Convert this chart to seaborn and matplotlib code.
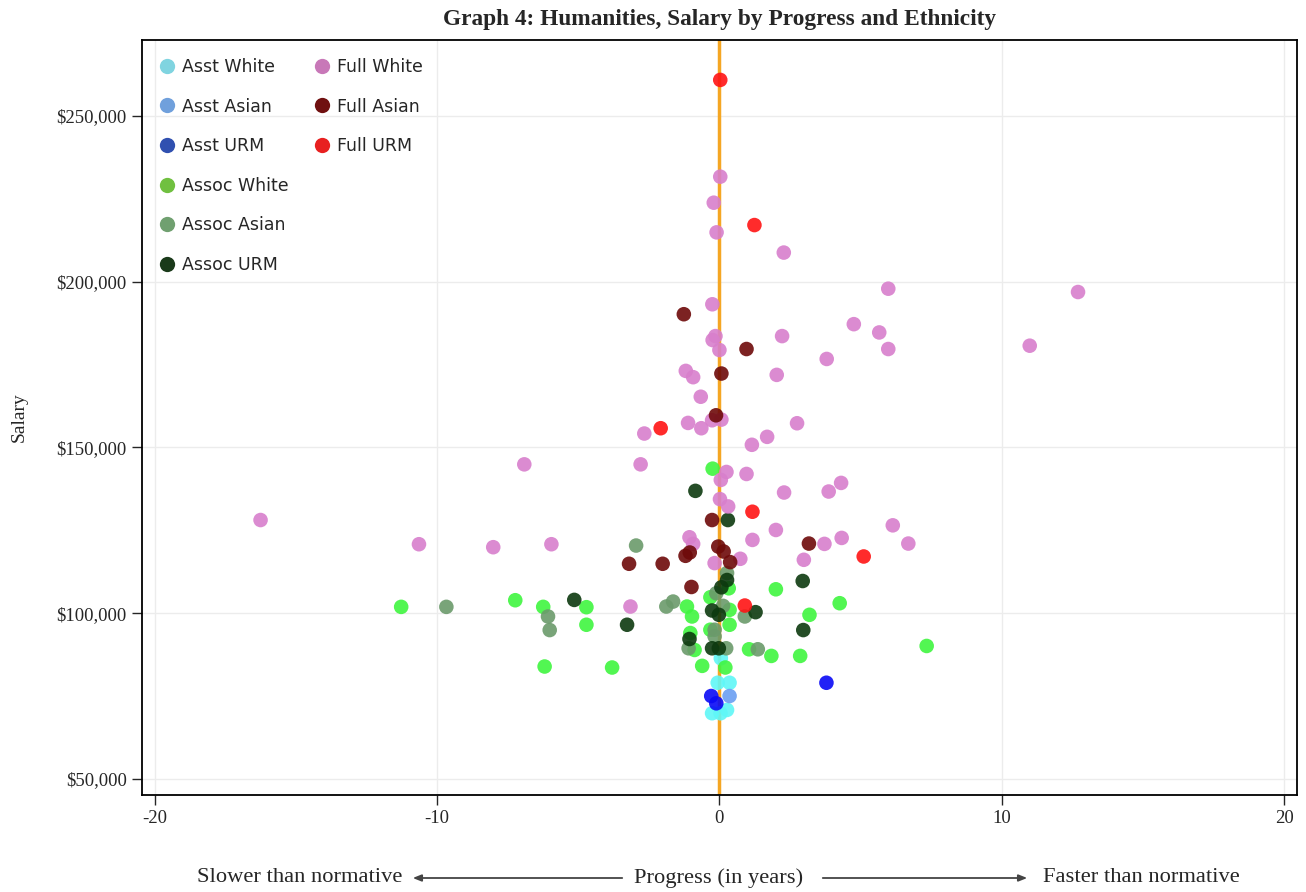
import pandas as pd
import seaborn as sns
import matplotlib.pyplot as plt
from matplotlib.lines import Line2D
from matplotlib.ticker import FuncFormatter

sns.set_style('white')
plt.rcParams['font.family'] = ['Liberation Serif', 'DejaVu Serif']
plt.rcParams['axes.unicode_minus'] = False

# progress (years) and salary
asst_white_x = [0.05, -0.06, 0.36, -0.26, 0.27, 0.04]
asst_white_y = [86400, 79000, 79000, 69800, 70800, 69800]
asst_asian_x = [0.36]
asst_asian_y = [75000]
asst_urm_x = [3.79, -0.29, -0.11]
asst_urm_y = [79000, 75000, 72800]

assoc_white_x = [-0.24, 0.33, 2.0, 4.26, -4.71, -1.15, -0.97, -0.32, 0.36, 3.19, -4.71, -0.32,
                 0.36, -1.03, -0.88, 1.05, 1.84, 2.86, -3.8, -0.61, 0.21, -11.27, -7.23, -6.24,
                 -6.19, 7.34]
assoc_white_y = [143600, 107500, 107200, 103000, 101800, 102000, 99000, 104800, 101000, 99500, 96500, 95000,
                 96500, 94000, 88900, 89100, 87100, 87100, 83600, 84100, 83600, 101900, 103900, 101900,
                 83900, 90100]
assoc_asian_x = [0.27, -1.88, -1.64, -0.11, 0.13, 0.9, -0.17, -0.17, -1.09, 0.24, 1.36, -9.67,
                 -6.07, -6.01, -2.95]
assoc_asian_y = [112100, 102000, 103500, 106000, 102200, 99000, 95000, 93000, 89400, 89400, 89100, 101900,
                 99000, 94900, 120400]
assoc_urm_x = [-0.85, 0.3, 0.27, 0.07, 2.95, -5.14, -0.26, -0.02, 1.28, 2.97, -3.27, -1.06, -0.26, -0.02]
assoc_urm_y = [136900, 128100, 110000, 107800, 109700, 104000, 100800, 99500, 100300, 94900, 96500, 92200,
               89400, 89400]

full_white_x = [-16.25, -10.64, -8.01, -5.95, -6.91, -3.15, -2.79, -2.66, -1.11, -0.64, -0.26, 0.07,
                -0.66, -1.19, -0.93, -0.25, 0.03, -0.2, -0.1, 2.28, -0.14, -0.24, 0.0, 2.22,
                4.76, 5.66, 3.8, 2.03, 5.98, 12.7, 5.98, 10.99, 2.75, 1.69, 1.15, 0.25,
                0.05, 0.96, 0.02, 0.31, 2.29, 3.87, 4.31, -1.06, -0.93, 1.17, 2.0, 3.72,
                4.33, 6.14, 6.69, 2.99, 0.74, -0.17]
full_white_y = [128100, 120800, 119900, 120800, 144900, 102000, 144900, 154200, 157400, 155800, 158200, 158400,
                165300, 173100, 171200, 193200, 231700, 223850, 214900, 208800, 183600, 182400, 179400, 183600,
                187200, 184700, 176700, 171900, 197900, 196900, 179700, 180700, 157300, 153200, 150800, 142600,
                140200, 142000, 134400, 132200, 136400, 136700, 139300, 122900, 120900, 122100, 125100, 120900,
                122700, 126500, 121000, 116100, 116400, 115100]
full_asian_x = [-1.26, 0.96, 0.07, -0.12, -0.26, 3.17, -0.04, 0.15, -1.2, -1.05, -3.2, -2.01, 0.38, -0.99]
full_asian_y = [190200, 179700, 172300, 159700, 128100, 121000, 120100, 118600, 117300, 118300, 114900, 114900,
                115400, 107900]
full_urm_x = [0.03, 1.24, -2.08, 1.17, 5.11, 0.9]
full_urm_y = [260900, 217100, 155800, 130600, 117100, 102300]

groups = ['Asst White', 'Asst Asian', 'Asst URM', 'Assoc White', 'Assoc Asian', 'Assoc URM',
          'Full White', 'Full Asian', 'Full URM']
xs = [asst_white_x, asst_asian_x, asst_urm_x, assoc_white_x, assoc_asian_x, assoc_urm_x,
      full_white_x, full_asian_x, full_urm_x]
ys = [asst_white_y, asst_asian_y, asst_urm_y, assoc_white_y, assoc_asian_y, assoc_urm_y,
      full_white_y, full_asian_y, full_urm_y]

# colours of the dots in the plot and (slightly different) in the legend
dot_colors = ['#5ff7f7', '#6a9ff2', '#0a0af5', '#3ff53f', '#6b9a6b', '#0d3a0f',
              '#d87fcc', '#6e0a0a', '#ff1414']
legend_colors = ['#80d4e0', '#70a0dc', '#3050b0', '#70c040', '#70a070', '#1a3a1a',
                 '#c878b8', '#701010', '#e82020']

rows = []
for g, gx, gy in zip(groups, xs, ys):
    for a, b in zip(gx, gy):
        rows.append({'progress': a, 'salary': b, 'group': g})
df = pd.DataFrame(rows)

fig = plt.figure(figsize=(13.06, 8.92), dpi=100)
ax = fig.add_axes([0.1087, 0.109, 0.8843, 0.846])

ax.axvline(0, color='#f5a623', lw=2.5, zorder=1)
sns.scatterplot(data=df, x='progress', y='salary', hue='group', hue_order=groups,
                palette=dict(zip(groups, dot_colors)), s=110, alpha=0.9, linewidth=0,
                legend=False, ax=ax, zorder=3)

ax.set_xlim(-20.45, 20.45)
ax.set_ylim(45200, 272900)
ax.set_xticks([-20, -10, 0, 10, 20])
ax.set_yticks([50000, 100000, 150000, 200000, 250000])
ax.yaxis.set_major_formatter(FuncFormatter(lambda v, p: '${:,.0f}'.format(v)))
ax.grid(True, color='#ececec', lw=1)
ax.set_axisbelow(True)
for sp in ax.spines.values():
    sp.set_color('black')
    sp.set_linewidth(1.3)
ax.tick_params(axis='both', which='major', length=7, width=1, direction='out', pad=4,
               labelsize=13.5, bottom=True, left=True)
ax.set_xlabel('')
ax.set_ylabel('Salary', fontsize=14, labelpad=21)
ax.set_title('Graph 4: Humanities, Salary by Progress and Ethnicity',
             fontsize=16.8, fontweight='bold', pad=11)

# legend in two columns (6 + 3)
def handles(idx):
    return [Line2D([], [], marker='o', ls='', markersize=11, markeredgewidth=0,
                   color=legend_colors[i], label=groups[i]) for i in idx]

leg_kw = dict(frameon=False, prop={'family': 'DejaVu Sans', 'size': 12.5}, labelspacing=1.24,
              handletextpad=0.17, handlelength=1.4, borderaxespad=0)
leg1 = ax.legend(handles=handles(range(6)), loc='upper left',
                 bbox_to_anchor=(0.005, 0.9855), **leg_kw)
ax.add_artist(leg1)
ax.legend(handles=handles(range(6, 9)), loc='upper left',
          bbox_to_anchor=(0.1393, 0.9855), **leg_kw)

# bottom annotation with arrows
ty = 1 - 878 / 892
fig.text(402 / 1306, ty, 'Slower than normative', ha='right', va='center', fontsize=16.2)
fig.text(719 / 1306, ty, 'Progress (in years)', ha='center', va='center', fontsize=16.2)
fig.text(1043 / 1306, ty, 'Faster than normative', ha='left', va='center', fontsize=16.2)
arrow = dict(arrowstyle='-|>,head_length=0.5,head_width=0.2', color='#444444', lw=1.3)
ax.annotate('', xy=(410 / 1306, ty), xytext=(625 / 1306, ty), xycoords='figure fraction',
            textcoords='figure fraction', arrowprops=arrow)
ax.annotate('', xy=(1030 / 1306, ty), xytext=(820 / 1306, ty), xycoords='figure fraction',
            textcoords='figure fraction', arrowprops=arrow)

plt.savefig('out.png', dpi=100)
